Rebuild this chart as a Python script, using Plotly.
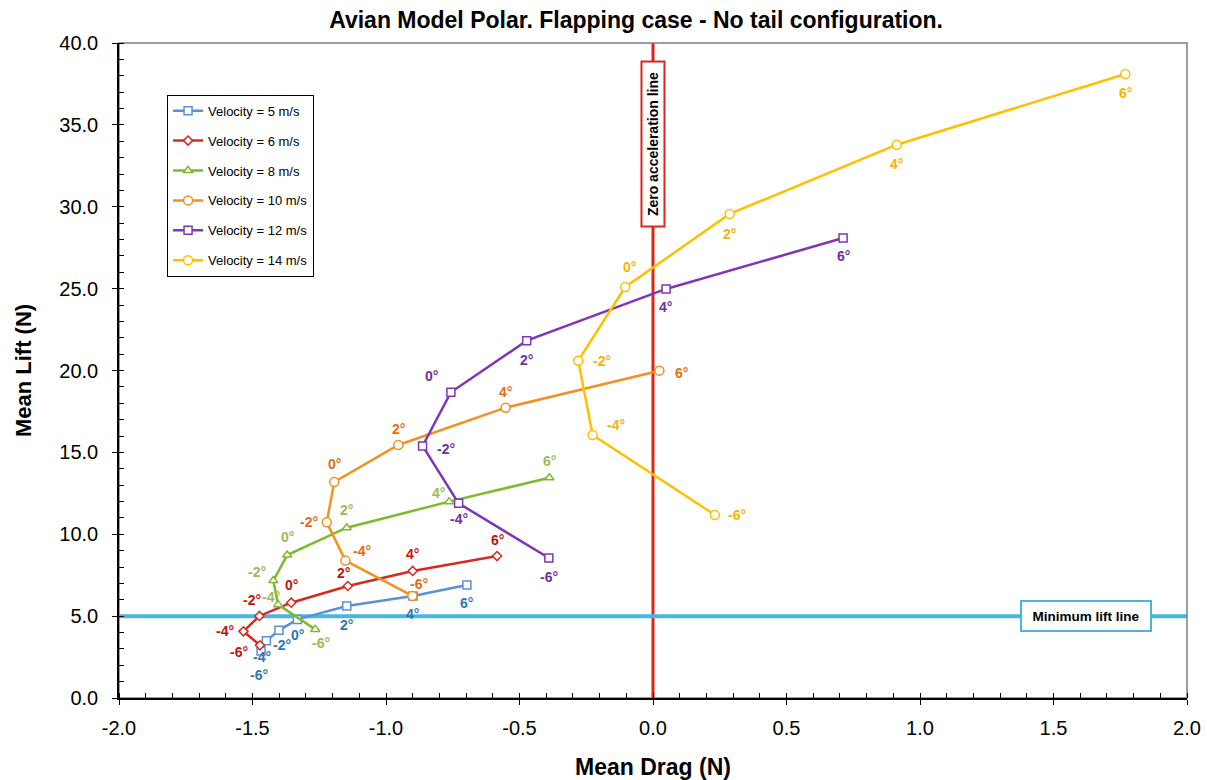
import plotly.graph_objects as go

# ---------------- data ----------------
angles = ["-6°", "-4°", "-2°", "0°", "2°", "4°", "6°"]
series_names = ["Velocity = 5 m/s", "Velocity = 6 m/s", "Velocity = 8 m/s",
                "Velocity = 10 m/s", "Velocity = 12 m/s", "Velocity = 14 m/s"]

drag_v5 = [-1.468, -1.448, -1.401, -1.332, -1.147, -0.899, -0.697]
lift_v5 = [2.87, 3.50, 4.13, 4.80, 5.62, 6.23, 6.90]

drag_v6 = [-1.472, -1.534, -1.474, -1.355, -1.143, -0.900, -0.584]
lift_v6 = [3.22, 4.07, 5.01, 5.82, 6.84, 7.76, 8.67]

drag_v8 = [-1.265, -1.404, -1.422, -1.370, -1.147, -0.764, -0.388]
lift_v8 = [4.19, 5.70, 7.17, 8.73, 10.40, 11.99, 13.45]

drag_v10 = [-0.901, -1.152, -1.222, -1.194, -0.954, -0.552, 0.024]
lift_v10 = [6.23, 8.39, 10.73, 13.19, 15.45, 17.73, 19.99]

drag_v12 = [-0.390, -0.728, -0.863, -0.757, -0.473, 0.049, 0.712]
lift_v12 = [8.55, 11.89, 15.39, 18.67, 21.82, 24.98, 28.09]

drag_v14 = [0.232, -0.226, -0.280, -0.104, 0.287, 0.913, 1.769]
lift_v14 = [11.18, 16.06, 20.60, 25.10, 29.56, 33.79, 38.11]

zero_accel_drag = 0.0
min_lift = 5.0

x_ticks = [-2.0, -1.5, -1.0, -0.5, 0.0, 0.5, 1.0, 1.5, 2.0]
y_ticks = [0, 5, 10, 15, 20, 25, 30, 35, 40]

# ---------------- styles ----------------
drags = [drag_v5, drag_v6, drag_v8, drag_v10, drag_v12, drag_v14]
lifts = [lift_v5, lift_v6, lift_v8, lift_v10, lift_v12, lift_v14]
line_colors = ["#5B8FD9", "#D62A20", "#7DBA2F", "#F39020", "#7F35B8", "#FFC000"]
label_colors = ["#2E75B6", "#C0140C", "#9BBB59", "#E66C0F", "#7030A0", "#F5B400"]
symbols = ["square", "diamond", "triangle-up", "circle", "square", "circle"]
marker_sizes = [8, 7, 8, 9, 8, 9]
# label pixel offsets (dx, dy) with dy positive downward, per point
label_offsets = [
    [(-2, 24), (-4, 16), (3, 15), (0, 16), (0, 19), (0, 18), (0, 18)],
    [(-21, 7), (-18, 0), (-7, -16), (0, -18), (-4, -13), (0, -17), (0, -16)],
    [(6, 14), (-7, -8), (-16, -9), (0, -18), (0, -18), (-11, -9), (0, -17)],
    [(7, -12), (17, -10), (-18, 0), (0, -18), (0, -16), (0, -16), (22, 2)],
    [(0, 19), (0, 16), (23, 3), (-19, -16), (0, 19), (-1, 18), (0, 18)],
    [(22, 0), (23, -10), (24, 0), (4, -20), (0, 20), (0, 19), (0, 19)],
]

FONT = "Arial, Liberation Sans, sans-serif"

fig = go.Figure()

for i in range(len(series_names)):
    fig.add_trace(go.Scatter(
        x=drags[i], y=lifts[i], mode="lines+markers", name=series_names[i],
        legendgroup=series_names[i],
        line=dict(color=line_colors[i], width=2.5),
        marker=dict(symbol=symbols[i], size=marker_sizes[i], color="white",
                    line=dict(width=1.5, color=line_colors[i])),
    ))
    for j in range(len(angles)):
        dx, dy = label_offsets[i][j]
        fig.add_annotation(
            x=drags[i][j], y=lifts[i][j], text="<b>%s</b>" % angles[j],
            showarrow=False, xshift=dx, yshift=-dy,
            font=dict(family=FONT, size=14, color=label_colors[i]),
        )

# reference lines
fig.add_shape(type="line", xref="x", yref="paper", x0=zero_accel_drag, x1=zero_accel_drag,
              y0=0, y1=1, line=dict(color="#D9261C", width=3), layer="below")
fig.add_shape(type="line", xref="paper", yref="y", x0=0, x1=1, y0=min_lift, y1=min_lift,
              line=dict(color="#4BB5E0", width=4), layer="below")
# plot frame (top/right in gray)
fig.add_shape(type="rect", xref="paper", yref="paper", x0=0, x1=1, y0=0, y1=1,
              line=dict(color="#7F7F7F", width=1.5), layer="below")

fig.add_annotation(
    x=zero_accel_drag, y=33.8, xref="x", yref="y", text="<b>Zero acceleration line</b>",
    textangle=-90, showarrow=False, bgcolor="white", bordercolor="#D9261C",
    borderwidth=2, borderpad=3, width=157, height=15,
    font=dict(family=FONT, size=14, color="black"),
)
fig.add_annotation(
    x=1.62, y=min_lift, xref="x", yref="y", text="<b>Minimum lift line</b>",
    showarrow=False, bgcolor="white", bordercolor="#4BB5E0",
    borderwidth=2, borderpad=4, width=120, height=20,
    font=dict(family=FONT, size=13.5, color="black"),
)

fig.update_layout(
    width=1207, height=780,
    margin=dict(l=119, r=20, t=43, b=82),
    paper_bgcolor="white", plot_bgcolor="white",
    font=dict(family=FONT, color="black"),
    title=dict(text="<b>Avian Model Polar. Flapping case - No tail configuration.</b>",
               x=0.527, xanchor="center", y=0.974, yanchor="middle",
               font=dict(family=FONT, size=23, color="black")),
    showlegend=True,
    legend=dict(x=0.045, y=0.921, xanchor="left", yanchor="top",
                bgcolor="white", bordercolor="black", borderwidth=1,
                font=dict(family=FONT, size=13, color="black"),
                traceorder="grouped", tracegroupgap=10),
    xaxis=dict(range=[-2.0, 2.0], tickvals=x_ticks, ticktext=["%.1f" % v for v in x_ticks],
               automargin=False, ticklabeloverflow="allow",
               showgrid=False, zeroline=False, showline=True, linecolor="black", linewidth=1.5,
               ticks="outside", ticklen=5, tickcolor="black", ticklabelstandoff=6,
               minor=dict(dtick=0.1, ticks="inside", ticklen=5, tickcolor="black", showgrid=False),
               tickfont=dict(family=FONT, size=20, color="black"),
               title=dict(text="<b>Mean Drag (N)</b>", standoff=22,
                          font=dict(family=FONT, size=23, color="black"))),
    yaxis=dict(range=[0, 40], tickvals=y_ticks, ticktext=["%.1f" % v for v in y_ticks],
               automargin=False, ticklabeloverflow="allow",
               showgrid=False, zeroline=False, showline=True, linecolor="black", linewidth=1.5,
               ticks="outside", ticklen=5, tickcolor="black", ticklabelstandoff=10,
               minor=dict(dtick=1, ticks="inside", ticklen=5, tickcolor="black", showgrid=False),
               tickfont=dict(family=FONT, size=20, color="black"),
               title=dict(text="<b>Mean Lift (N)</b>", standoff=22,
                          font=dict(family=FONT, size=22, color="black"))),
)

fig.write_html("out.html")
